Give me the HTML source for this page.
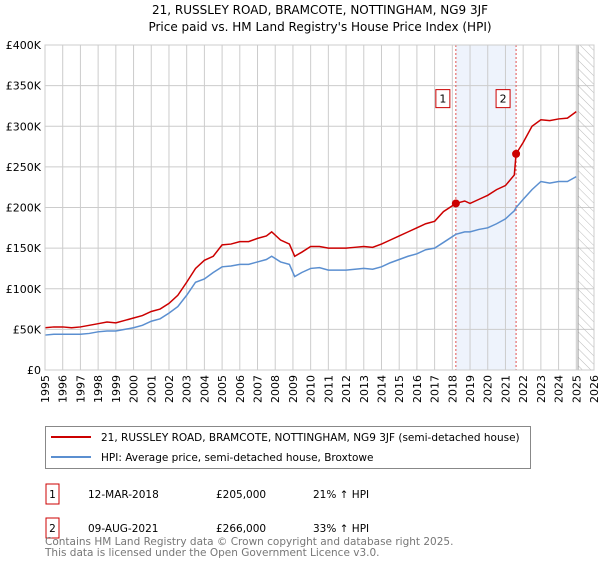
<!DOCTYPE html>
<html><head><meta charset="utf-8"><style>
body{margin:0;background:#fff;font-family:"DejaVu Sans","Liberation Sans",sans-serif;}
</style></head><body>
<svg width="600" height="560" xmlns="http://www.w3.org/2000/svg" font-family="DejaVu Sans, Liberation Sans, sans-serif">
<text x="320" y="14" font-size="12" text-anchor="middle">21, RUSSLEY ROAD, BRAMCOTE, NOTTINGHAM, NG9 3JF</text>
<text x="320" y="31" font-size="12" text-anchor="middle">Price paid vs. HM Land Registry's House Price Index (HPI)</text>
<g id="plot"></g>
<g>
<rect x="45.5" y="426.5" width="485" height="42" fill="#fff" stroke="#888"/>
<line x1="51" y1="437" x2="91" y2="437" stroke="#cc0000" stroke-width="2"/>
<text x="101" y="441" font-size="10.5">21, RUSSLEY ROAD, BRAMCOTE, NOTTINGHAM, NG9 3JF (semi-detached house)</text>
<line x1="51" y1="457" x2="91" y2="457" stroke="#5b8fd0" stroke-width="2"/>
<text x="101" y="461" font-size="10.5">HPI: Average price, semi-detached house, Broxtowe</text>
</g>
<g font-size="10.5">
<rect x="46" y="484" width="13" height="20" fill="none" stroke="#cc0000"/><text x="52.5" y="498" text-anchor="middle">1</text>
<text x="88" y="498">12-MAR-2018</text><text x="216" y="498">£205,000</text><text x="313" y="498">21% ↑ HPI</text>
<rect x="46" y="518" width="13" height="20" fill="none" stroke="#cc0000"/><text x="52.5" y="532" text-anchor="middle">2</text>
<text x="88" y="532">09-AUG-2021</text><text x="216" y="532">£266,000</text><text x="313" y="532">33% ↑ HPI</text>
</g>
<text x="45" y="545" font-size="10.5" fill="#777">Contains HM Land Registry data © Crown copyright and database right 2025.</text>
<text x="45" y="556" font-size="10.5" fill="#777">This data is licensed under the Open Government Licence v3.0.</text>
</svg>
<script>
const years=[1995,1995.5,1996,1996.5,1997,1997.5,1998,1998.5,1999,1999.5,2000,2000.5,2001,2001.5,2002,2002.5,2003,2003.5,2004,2004.5,2005,2005.5,2006,2006.5,2007,2007.5,2007.8,2008.3,2008.8,2009.1,2009.5,2010,2010.5,2011,2011.5,2012,2012.5,2013,2013.5,2014,2014.5,2015,2015.5,2016,2016.5,2017,2017.5,2018.2,2018.7,2019,2019.5,2020,2020.5,2021,2021.5,2021.6,2022,2022.5,2023,2023.5,2024,2024.5,2025];
const redVals=[52,53,53,52,53,55,57,59,58,61,64,67,72,75,82,92,108,125,135,140,154,155,158,158,162,165,170,160,155,140,145,152,152,150,150,150,151,152,151,155,160,165,170,175,180,183,195,205,208,205,210,215,222,227,240,266,280,300,308,307,309,310,318];
const blueVals=[43,44,44,44,44,45,47,48,48,50,52,55,60,63,70,78,92,108,112,120,127,128,130,130,133,136,140,133,130,115,120,125,126,123,123,123,124,125,124,127,132,136,140,143,148,150,157,167,170,170,173,175,180,186,196,200,210,222,232,230,232,232,238];
const yTicks=[0,50,100,150,200,250,300,350,400];
const yTickLabels=["£0","£50K","£100K","£150K","£200K","£250K","£300K","£350K","£400K"];
const sales=[{n:"1",t:2018.2,v:205},{n:"2",t:2021.6,v:266}];
const L=45,R=594,T=45,B=370,x0=1995,x1=2026;
const X=t=>L+(t-x0)/(x1-x0)*(R-L), Y=v=>B-v/400*(B-T);
const g=document.getElementById('plot');const NS="http://www.w3.org/2000/svg";
function el(tag,attrs,parent,txt){const e=document.createElementNS(NS,tag);for(const k in attrs)e.setAttribute(k,attrs[k]);if(txt!=null)e.textContent=txt;(parent||g).appendChild(e);return e;}
let band=el('rect',{x:X(2018.2),y:T,width:X(2021.6)-X(2018.2),height:B-T,fill:'#eef3fc'});

for(let yr=1995;yr<=2026;yr++){let l=el('line',{x1:X(yr),x2:X(yr),y1:T,y2:B,stroke:'#ccc'});

let t=el('text',{x:0,y:0,'font-size':11,transform:`translate(${X(yr)+4},375) rotate(-90)`,'text-anchor':'end'},g,String(yr));
}
yTicks.forEach((v,i)=>{let l=el('line',{x1:L,x2:R,y1:Y(v),y2:Y(v),stroke:'#ccc'});

let t=el('text',{x:L-4,y:Y(v)+4,'font-size':11,'text-anchor':'end'},g,yTickLabels[i]);
});
const defs=el('defs',{});const pat=el('pattern',{id:'hatch',width:6,height:6,patternUnits:'userSpaceOnUse',patternTransform:'rotate(-45)'},defs);
el('line',{x1:0,y1:0,x2:0,y2:6,stroke:'#bbb'},pat);
let h=el('rect',{x:X(2025.1),y:T,width:R-X(2025.1),height:B-T,fill:'url(#hatch)',stroke:'#999'});

sales.forEach(s=>{let l=el('line',{x1:X(s.t),x2:X(s.t),y1:T,y2:B,stroke:'#e05050','stroke-dasharray':'2,2'});
});
let pb=el('polyline',{points:years.map((t,i)=>X(t)+','+Y(blueVals[i])).join(' '),fill:'none',stroke:'#5b8fd0','stroke-width':1.5});

let pr=el('polyline',{points:years.map((t,i)=>X(t)+','+Y(redVals[i])).join(' '),fill:'none',stroke:'#cc0000','stroke-width':1.5});

sales.forEach(s=>{let c=el('circle',{cx:X(s.t),cy:Y(s.v),r:4,fill:'#cc0000'});

let b=el('rect',{x:X(s.t)-20,y:Y(350)+4,width:14,height:18,fill:'#fff',stroke:'#cc0000'});

let t=el('text',{x:X(s.t)-13,y:Y(350)+17,'font-size':11,'text-anchor':'middle'},g,s.n);
});
let ax=el('rect',{x:L,y:T,width:R-L,height:B-T,fill:'none',stroke:'#ccc'});

</script>
</body></html>
